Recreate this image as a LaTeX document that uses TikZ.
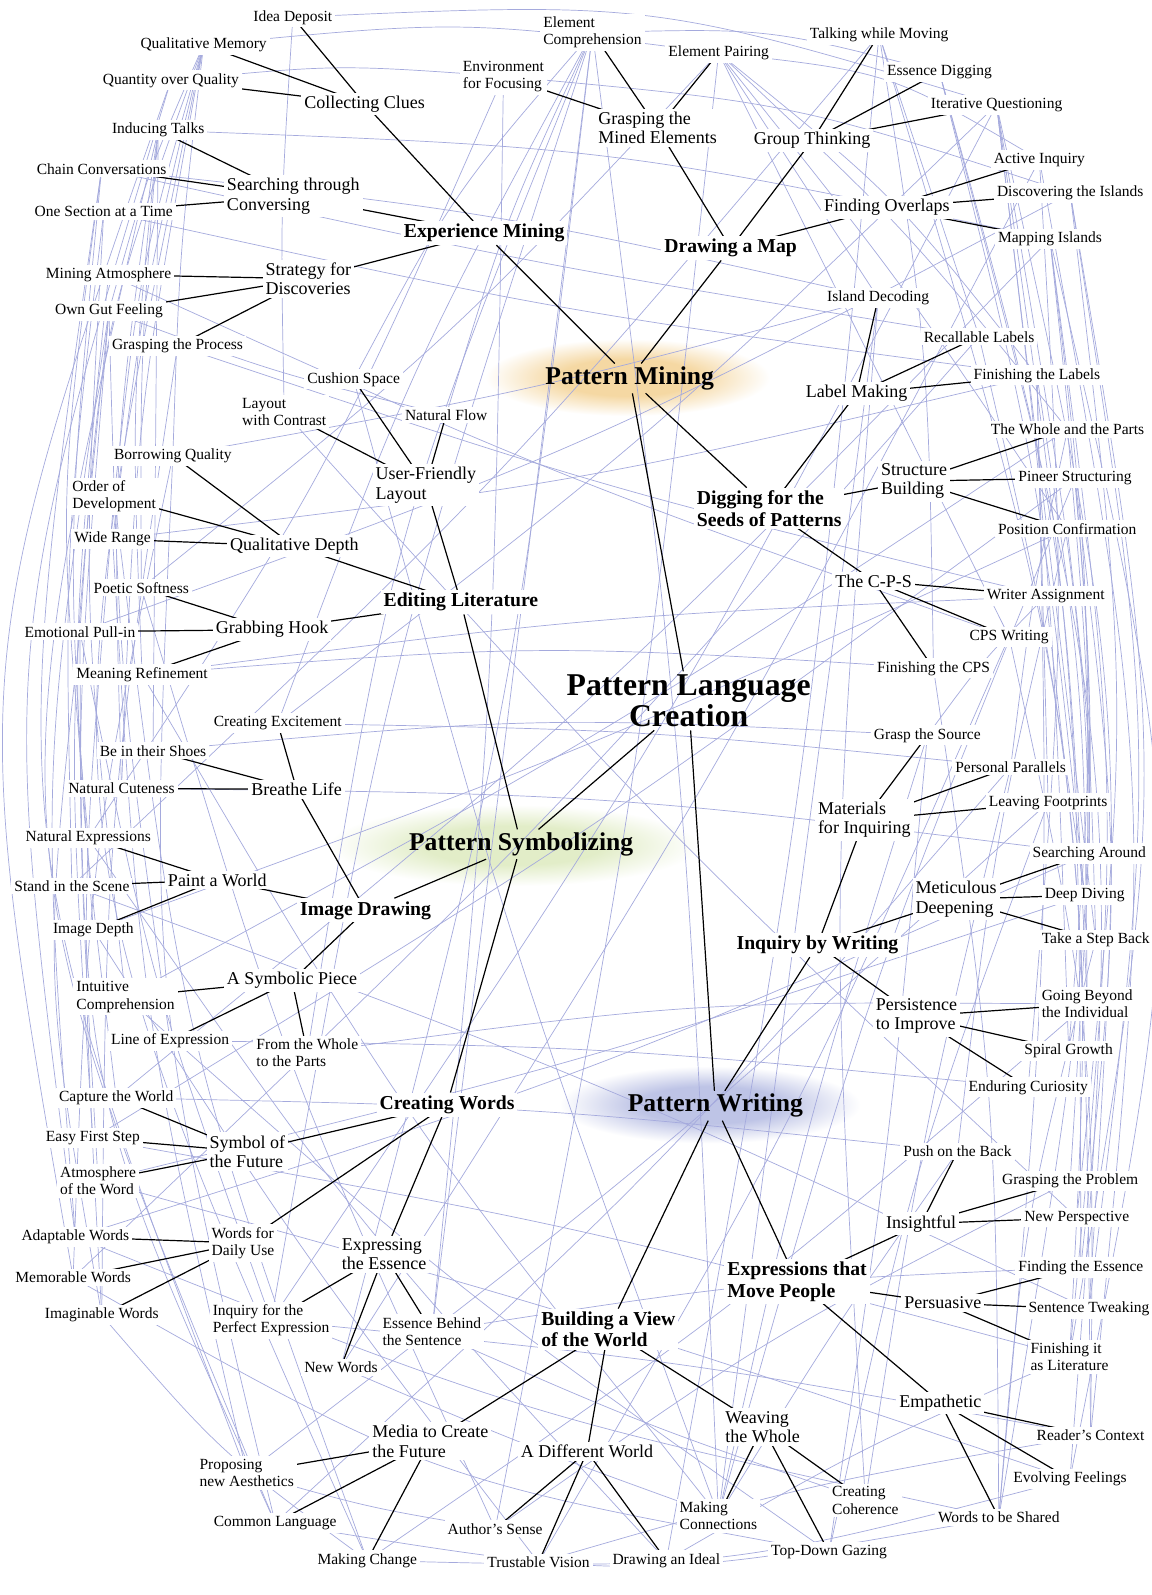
\documentclass[tikz,border=0pt]{standalone}
\usepackage{fontspec}
\setmainfont{Liberation Serif}
\usetikzlibrary{calc}
\definecolor{WebBlue}{RGB}{165,170,221}
\definecolor{GlowOrange}{RGB}{245,216,163}
\definecolor{GlowGreen}{RGB}{226,237,200}
\definecolor{GlowBlue}{RGB}{190,196,230}
\pgfdeclareradialshading{orangeglow}{\pgfpointorigin}{color(0bp)=(GlowOrange); color(12bp)=(GlowOrange); color(25bp)=(white); color(50bp)=(white)}
\pgfdeclareradialshading{greenglow}{\pgfpointorigin}{color(0bp)=(GlowGreen); color(12bp)=(GlowGreen); color(25bp)=(white); color(50bp)=(white)}
\pgfdeclareradialshading{blueglow}{\pgfpointorigin}{color(0bp)=(GlowBlue); color(12bp)=(GlowBlue); color(25bp)=(white); color(50bp)=(white)}
\pgfdeclarelayer{back}
\pgfsetlayers{back,main}

\begin{document}
\begin{tikzpicture}[x=1.0168pt,y=-1.0168pt,
  leaf/.style={anchor=west,align=left,inner sep=3pt,fill=white,font=\fontsize{15.5}{17.3}\selectfont},
  mid/.style={leaf,font=\fontsize{18}{19.3}\selectfont},
  topic/.style={leaf,font=\bfseries\fontsize{19.7}{21.4}\selectfont},
  phase/.style={anchor=west,inner sep=3pt,font=\bfseries\fontsize{25.6}{27}\selectfont},
  root/.style={align=center,inner sep=3pt,font=\bfseries\fontsize{31.7}{31.5}\selectfont},
  link/.style={line width=1.2pt},
  web/.style={draw=WebBlue,line width=0.7pt}]
  \useasboundingbox (0,0) rectangle (1132,1568);

  \node[root] (plc) at (677,689) {Pattern Language\\Creation};
  \node[phase] (mining) at (533,372) {Pattern Mining};
  \node[phase] (symb) at (399,830) {Pattern Symbolizing};
  \node[phase] (writing) at (614,1087) {Pattern Writing};

  \node[topic] (expmin) at (394,229) {Experience Mining};
  \node[topic] (drawmap) at (650,244) {Drawing a Map};
  \node[topic] (digging) at (682,500) {Digging for the\\Seeds of Patterns};
  \node[topic] (editlit) at (374,592) {Editing Literature};
  \node[topic] (imgdraw) at (292,895) {Image Drawing};
  \node[topic] (crwords) at (370,1086) {Creating Words};
  \node[topic] (inqwrit) at (721,929) {Inquiry by Writing};
  \node[topic] (bview) at (529,1307) {Building a View\\of the World};
  \node[topic] (expmove) at (712,1260) {Expressions that\\Move People};

  \node[mid] (colclues) at (296,102) {Collecting Clues};
  \node[mid] (searchconv) at (220,193) {Searching through\\Conversing};
  \node[mid] (strategy) at (258,274) {Strategy for\\Discoveries};
  \node[mid] (grasped) at (585,126) {Grasping the\\Mined Elements};
  \node[mid] (groupthink) at (738,138) {Group Thinking};
  \node[mid] (findover) at (807,204) {Finding Overlaps};
  \node[mid] (labelmk) at (789,387) {Label Making};
  \node[mid] (structb) at (863,473) {Structure\\Building};
  \node[mid] (cps) at (818,571) {The C-P-S};
  \node[mid] (userfl) at (366,477) {User-Friendly\\Layout};
  \node[mid] (qualdepth) at (223,537) {Qualitative Depth};
  \node[mid] (grabhook) at (209,619) {Grabbing Hook};
  \node[mid] (breathe) at (244,776) {Breathe Life};
  \node[mid] (paint) at (162,865) {Paint a World};
  \node[mid] (symbpiece) at (220,964) {A Symbolic Piece};
  \node[mid] (symfut) at (203,1132) {Symbol of\\the Future};
  \node[leaf] (dailyuse) at (205,1222) {Words for\\Daily Use};
  \node[mid] (expess) at (333,1233) {Expressing\\the Essence};
  \node[mid] (media) at (363,1417) {Media to Create\\the Future};
  \node[mid] (diffworld) at (509,1427) {A Different World};
  \node[mid] (weaving) at (710,1403) {Weaving\\the Whole};
  \node[mid] (materials) at (801,806) {Materials\\for Inquiring};
  \node[mid] (meticul) at (897,884) {Meticulous\\Deepening};
  \node[mid] (persist) at (858,999) {Persistence\\to Improve};
  \node[mid] (insight) at (868,1203) {Insightful};
  \node[mid] (persuas) at (886,1281) {Persuasive};
  \node[mid] (empath) at (881,1379) {Empathetic};

  \node[leaf] (ideadep) at (246,17) {Idea Deposit};
  \node[leaf] (qualmem) at (135,44) {Qualitative Memory};
  \node[leaf] (quantity) at (98,79) {Quantity over Quality};
  \node[leaf] (inducing) at (107,128) {Inducing Talks};
  \node[leaf] (chainconv) at (33,166) {Chain Conversations};
  \node[leaf] (onesect) at (31,208) {One Section at a Time};
  \node[leaf] (miningatm) at (42,270) {Mining Atmosphere};
  \node[leaf] (gutfeel) at (51,306) {Own Gut Feeling};
  \node[leaf] (graspproc) at (107,340) {Grasping the Process};
  \node[leaf] (elemcomp) at (531,32) {Element\\Comprehension};
  \node[leaf] (envfocus) at (452,75) {Environment\\for Focusing};
  \node[leaf] (elempair) at (654,52) {Element Pairing};
  \node[leaf] (talking) at (793,34) {Talking while Moving};
  \node[leaf] (essdig) at (869,71) {Essence Digging};
  \node[leaf] (iterq) at (912,103) {Iterative Questioning};
  \node[leaf] (activeinq) at (974,157) {Active Inquiry};
  \node[leaf] (discisl) at (977,190) {Discovering the Islands};
  \node[leaf] (mapisl) at (978,235) {Mapping Islands};
  \node[leaf] (isldec) at (810,293) {Island Decoding};
  \node[leaf] (recall) at (905,331) {Recallable Labels};
  \node[leaf] (finlabels) at (954,369) {Finishing the Labels};
  \node[leaf] (wholeparts) at (971,422) {The Whole and the Parts};
  \node[leaf] (pineer) at (998,470) {Pineer Structuring};
  \node[leaf] (posconf) at (978,520) {Position Confirmation};
  \node[leaf] (writerasg) at (967,586) {Writer Assignment};
  \node[leaf] (cpswrit) at (950,626) {CPS Writing};
  \node[leaf] (fincps) at (859,657) {Finishing the CPS};
  \node[leaf] (cushion) at (299,373) {Cushion Space};
  \node[leaf] (contrast) at (235,405) {Layout\\with Contrast};
  \node[leaf] (natflow) at (395,408) {Natural Flow};
  \node[leaf] (borrowing) at (109,448) {Borrowing Quality};
  \node[leaf] (orderdev) at (68,488) {Order of\\Development};
  \node[leaf] (widerange) at (70,530) {Wide Range};
  \node[leaf] (poetic) at (89,578) {Poetic Softness};
  \node[leaf] (emotional) at (21,621) {Emotional Pull-in};
  \node[leaf] (meaning) at (72,663) {Meaning Refinement};
  \node[leaf] (excite) at (207,711) {Creating Excitement};
  \node[leaf] (shoes) at (95,738) {Be in their Shoes};
  \node[leaf] (cuteness) at (64,775) {Natural Cuteness};
  \node[leaf] (natexpr) at (22,824) {Natural Expressions};
  \node[leaf] (scene) at (11,871) {Stand in the Scene};
  \node[leaf] (imgdepth) at (49,914) {Image Depth};
  \node[leaf] (intuitive) at (72,980) {Intuitive\\Comprehension};
  \node[leaf] (lineexpr) at (106,1023) {Line of Expression};
  \node[leaf] (fromwhole) at (249,1035) {From the Whole\\to the Parts};
  \node[leaf] (capture) at (55,1079) {Capture the World};
  \node[leaf] (easyfirst) at (42,1119) {Easy First Step};
  \node[leaf] (atmword) at (56,1161) {Atmosphere\\of the Word};
  \node[leaf] (adaptable) at (18,1216) {Adaptable Words};
  \node[leaf] (memorable) at (12,1256) {Memorable Words};
  \node[leaf] (imaginable) at (41,1293) {Imaginable Words};
  \node[leaf] (inqperf) at (206,1298) {Inquiry for the\\Perfect Expression};
  \node[leaf] (essbehind) at (373,1309) {Essence Behind\\the Sentence};
  \node[leaf] (newwords) at (296,1344) {New Words};
  \node[leaf] (proposing) at (193,1448) {Proposing\\new Aesthetics};
  \node[leaf] (commonlang) at (207,1497) {Common Language};
  \node[leaf] (mkchange) at (309,1534) {Making Change};
  \node[leaf] (authors) at (437,1503) {Author's Sense};
  \node[leaf] (trustable) at (476,1536) {Trustable Vision};
  \node[leaf] (drawideal) at (599,1534) {Drawing an Ideal};
  \node[leaf] (mkconn) at (665,1490) {Making\\Connections};
  \node[leaf] (coherence) at (815,1475) {Creating\\Coherence};
  \node[leaf] (topdown) at (755,1526) {Top-Down Gazing};
  \node[leaf] (graspsrc) at (856,723) {Grasp the Source};
  \node[leaf] (personal) at (936,754) {Personal Parallels};
  \node[leaf] (footprints) at (969,789) {Leaving Footprints};
  \node[leaf] (searcharound) at (1012,839) {Searching Around};
  \node[leaf] (deepdive) at (1024,880) {Deep Diving};
  \node[leaf] (stepback) at (1021,924) {Take a Step Back};
  \node[leaf] (beyond) at (1021,987) {Going Beyond\\the Individual};
  \node[leaf] (spiral) at (1004,1033) {Spiral Growth};
  \node[leaf] (enduring) at (949,1069) {Enduring Curiosity};
  \node[leaf] (push) at (885,1132) {Push on the Back};
  \node[leaf] (graspprob) at (982,1161) {Grasping the Problem};
  \node[leaf] (newpersp) at (1004,1197) {New Perspective};
  \node[leaf] (findess) at (998,1246) {Finding the Essence};
  \node[leaf] (tweaking) at (1008,1287) {Sentence Tweaking};
  \node[leaf] (finlit) at (1010,1334) {Finishing it\\as Literature};
  \node[leaf] (readers) at (1016,1411) {Reader's Context};
  \node[leaf] (evolving) at (993,1454) {Evolving Feelings};
  \node[leaf] (shared) at (919,1492) {Words to be Shared};

  \begin{pgfonlayer}{back}
  \fill[white] (0,0) rectangle (1132,1568);
  \shade[shading=orangeglow] (617,371) ellipse [x radius=140,y radius=38];
  \shade[shading=greenglow] (505,831) ellipse [x radius=182,y radius=40];
  \shade[shading=blueglow] (698,1086) ellipse [x radius=148,y radius=38];
  \foreach \a/\b/\c in {ideadep/iterq/12,qualmem/elempair/8,quantity/envfocus/6,elempair/activeinq/15,
    elemcomp/essdig/10,envfocus/discisl/8,inducing/mapisl/6,chainconv/isldec/4,
    elemcomp/inqperf/-5,elemcomp/essbehind/0,elemcomp/newwords/5,elemcomp/fromwhole/-8,elemcomp/excite/-5,elemcomp/mkconn/3,
    elempair/isldec/0,elempair/wholeparts/5,elempair/posconf/3,elempair/cpswrit/0,elempair/finlabels/8,
    talking/fincps/5,talking/recall/0,essdig/beyond/8,essdig/deepdive/5,iterq/findess/5,iterq/tweaking/10,iterq/spiral/3,iterq/stepback/0,
    activeinq/enduring/5,activeinq/readers/10,discisl/newpersp/8,discisl/finlit/12,mapisl/searcharound/4,mapisl/graspprob/6,mapisl/evolving/15,
    recall/deepdive/3,finlabels/footprints/0,finlabels/beyond/5,wholeparts/personal/-3,wholeparts/spiral/6,pineer/searcharound/3,pineer/findess/8,
    posconf/stepback/3,posconf/push/-4,writerasg/finlit/6,writerasg/graspsrc/-5,cpswrit/readers/8,fincps/shared/5,isldec/coherence/-5,isldec/mkconn/0,
    qualmem/emotional/-10,qualmem/gutfeel/-5,qualmem/borrowing/-3,qualmem/orderdev/-6,qualmem/widerange/-4,qualmem/mkchange/-22,
    inducing/meaning/-5,inducing/poetic/-3,inducing/cuteness/-6,inducing/shoes/0,inducing/commonlang/-22,
    chainconv/imgdepth/-6,chainconv/natexpr/-8,chainconv/proposing/-18,onesect/scene/-5,onesect/intuitive/-6,
    quantity/memorable/-18,quantity/adaptable/-15,miningatm/capture/-8,gutfeel/easyfirst/-6,gutfeel/lineexpr/-4,gutfeel/atmword/-5,gutfeel/adaptable/-8,
    graspproc/imaginable/-5,borrowing/memorable/-6,borrowing/commonlang/-10,orderdev/mkchange/-8,orderdev/imaginable/-5,widerange/proposing/-6,
    poetic/authors/-5,emotional/inqperf/-5,emotional/commonlang/-15,emotional/imaginable/-10,meaning/mkconn/-5,
    meaning/fincps/5,excite/personal/3,shoes/graspsrc/5,cuteness/searcharound/4,natexpr/drawideal/-5,scene/tweaking/3,imgdepth/trustable/-3,
    intuitive/topdown/-4,lineexpr/enduring/3,fromwhole/beyond/5,capture/push/3,easyfirst/finlit/3,atmword/evolving/2,adaptable/shared/-6,
    memorable/topdown/-12,imaginable/mkchange/-8,inqperf/readers/3,essbehind/findess/4,essbehind/coherence/-3,newwords/mkconn/-2,
    proposing/authors/-4,commonlang/shared/-12,mkchange/evolving/-10,authors/graspprob/5,trustable/readers/4,drawideal/finlit/4,
    mkconn/graspsrc/3,mkconn/push/2,mkconn/pineer/4,coherence/personal/3,topdown/footprints/5,shared/stepback/6,
    contrast/newpersp/-3,cushion/mkconn/-3,natflow/elemcomp/5,cushion/elemcomp/8,graspproc/writerasg/-3,miningatm/cpswrit/-3,
    onesect/finlabels/-3,chainconv/recall/-2,poetic/elempair/-5,borrowing/isldec/-3,widerange/finlabels/-4,natexpr/envfocus/-6,
    scene/talking/-4,meaning/writerasg/3,emotional/discisl/-5,imgdepth/posconf/-3,intuitive/wholeparts/-3,adaptable/searcharound/-4,
    memorable/recall/-3,capture/mapisl/-4,easyfirst/pineer/-3,atmword/deepdive/-3,inqperf/iterq/-4,newwords/activeinq/-3,
    proposing/footprints/-3,commonlang/personal/-4,mkchange/beyond/-4,authors/elempair/-3,trustable/cpswrit/-4,drawideal/talking/-3,
    topdown/graspsrc/-2,shared/finlabels/-4,essbehind/envfocus/-3,excite/iterq/-4,cuteness/qualmem/5,contrast/ideadep/3,gutfeel/natflow/-4,
    iterq/shared/12,talking/readers/10,essdig/evolving/12,mapisl/finlit/8,discisl/tweaking/10}{
    \coordinate (wm) at ($(\a)!0.5!(\b)$);
    \coordinate (wk) at ($(wm)!{0.8*tan(\c)}!90:(\b)$);
    \draw[web] (\a.center) .. controls (wk) .. (\b.center);
  }
  \foreach \p/\c in {expmin/colclues,expmin/searchconv,expmin/strategy,
    drawmap/grasped,drawmap/groupthink,drawmap/findover,
    digging/labelmk,digging/structb,digging/cps,
    editlit/userfl,editlit/qualdepth,editlit/grabhook,
    imgdraw/breathe,imgdraw/paint,imgdraw/symbpiece,
    crwords/symfut,crwords/dailyuse,crwords/expess,
    inqwrit/materials,inqwrit/meticul,inqwrit/persist,
    bview/media,bview/diffworld,bview/weaving,
    expmove/insight,expmove/persuas,expmove/empath,
    colclues/ideadep,colclues/qualmem,colclues/quantity,
    searchconv/inducing,searchconv/chainconv,searchconv/onesect,
    strategy/miningatm,strategy/gutfeel,strategy/graspproc,
    grasped/elemcomp,grasped/envfocus,grasped/elempair,
    groupthink/talking,groupthink/essdig,groupthink/iterq,
    findover/activeinq,findover/discisl,findover/mapisl,
    labelmk/isldec,labelmk/recall,labelmk/finlabels,
    structb/wholeparts,structb/pineer,structb/posconf,
    cps/writerasg,cps/cpswrit,cps/fincps,
    userfl/cushion,userfl/contrast,userfl/natflow,
    qualdepth/borrowing,qualdepth/orderdev,qualdepth/widerange,
    grabhook/poetic,grabhook/emotional,grabhook/meaning,
    breathe/excite,breathe/shoes,breathe/cuteness,
    paint/natexpr,paint/scene,paint/imgdepth,
    symbpiece/intuitive,symbpiece/lineexpr,symbpiece/fromwhole,
    symfut/capture,symfut/easyfirst,symfut/atmword,
    dailyuse/adaptable,dailyuse/memorable,dailyuse/imaginable,
    expess/inqperf,expess/essbehind,expess/newwords,
    media/proposing,media/commonlang,media/mkchange,
    diffworld/authors,diffworld/trustable,diffworld/drawideal,
    weaving/mkconn,weaving/coherence,weaving/topdown,
    materials/graspsrc,materials/personal,materials/footprints,
    meticul/searcharound,meticul/deepdive,meticul/stepback,
    persist/beyond,persist/spiral,persist/enduring,
    insight/push,insight/graspprob,insight/newpersp,
    persuas/findess,persuas/tweaking,persuas/finlit,
    empath/readers,empath/evolving,empath/shared}
    \draw[link] (\p.center) -- (\c.center);
  \end{pgfonlayer}

  \foreach \p/\c in {plc/mining,plc/symb,plc/writing,
    mining/expmin,mining/drawmap,mining/digging,
    symb/editlit,symb/imgdraw,symb/crwords,
    writing/inqwrit,writing/bview,writing/expmove}
    \draw[link] (\p) -- (\c);
\end{tikzpicture}
\end{document}
